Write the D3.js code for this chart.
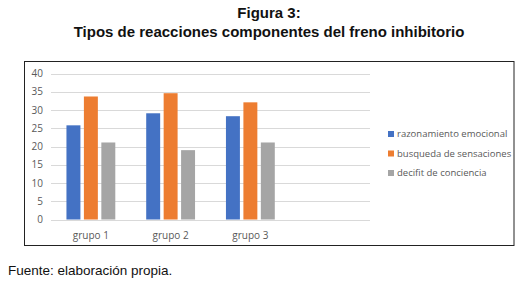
<!doctype html>
<html lang="es">
  <head>
    <meta charset="utf-8">
    <title>Figura 3</title>
    <script src="https://d3js.org/d3.v7.min.js"></script>
    <style>
      body { margin: 0; background: #fff; }
    </style>
  </head>
  <body>
    <svg width="530" height="283"></svg>
    <script>
      // data
      var groups = ['grupo 1', 'grupo 2', 'grupo 3', ''];
      var seriesNames = ['razonamiento emocional', 'busqueda de sensaciones', 'decifit de conciencia'];
      var razonamiento = [25.8, 29.1, 28.3, null];
      var busqueda = [33.7, 34.6, 32.1, null];
      var decifit = [21.1, 19.0, 21.1, null];
      var yTicks = [0, 5, 10, 15, 20, 25, 30, 35, 40];
      var colors = ['#4472c4', '#ed7d31', '#a5a5a5'];

      var series = [razonamiento, busqueda, decifit];

      var svg = d3.select('svg');

      // titles
      svg.append('text')
        .attr('x', 269).attr('y', 18)
        .attr('text-anchor', 'middle')
        .style('font', 'bold 15px "Liberation Sans", Arial, sans-serif')
        .style('fill', '#111')
        .text('Figura 3:');
      svg.append('text')
        .attr('x', 269).attr('y', 37)
        .attr('text-anchor', 'middle')
        .style('font', 'bold 15px "Liberation Sans", Arial, sans-serif')
        .style('fill', '#111')
        .text('Tipos de reacciones componentes del freno inhibitorio');

      // frame
      svg.append('rect')
        .attr('x', 24.5).attr('y', 61.5)
        .attr('width', 489.5).attr('height', 184)
        .style('fill', 'none')
        .style('stroke', '#222')
        .style('stroke-width', 1);

      var x = d3.scaleBand()
        .domain(d3.range(groups.length))
        .range([51, 370]);

      var inner = d3.scaleBand()
        .domain(d3.range(series.length))
        .range([0, x.bandwidth()])
        .paddingInner(0.2)
        .paddingOuter(0.886);

      var y = d3.scaleLinear()
        .domain([0, 40])
        .range([219.5, 73.5]);

      // gridlines
      svg.append('g').selectAll('line')
        .data(yTicks)
        .enter().append('line')
          .attr('x1', x.range()[0])
          .attr('x2', x.range()[1])
          .attr('y1', function(d){ return Math.round(y(d)) + 0.5; })
          .attr('y2', function(d){ return Math.round(y(d)) + 0.5; })
          .style('stroke', '#d9d9d9')
          .style('stroke-width', 1);

      // y axis labels
      var yAxis = d3.axisLeft(y).tickValues(yTicks).tickSize(0).tickPadding(8);
      var gy = svg.append('g')
        .attr('transform', 'translate(' + x.range()[0] + ',0)')
        .call(yAxis);
      gy.select('.domain').remove();
      gy.selectAll('text')
        .style('font', '10px "Open Sans", sans-serif')
        .style('fill', '#595959');

      // bars
      var barData = [];
      groups.forEach(function(g, i){
        series.forEach(function(s, j){
          if (s[i] != null) barData.push({ g: i, s: j, v: s[i] });
        });
      });

      svg.append('g').selectAll('rect')
        .data(barData)
        .enter().append('rect')
          .attr('x', function(d){ return x(d.g) + inner(d.s); })
          .attr('width', inner.bandwidth())
          .attr('y', function(d){ return y(d.v); })
          .attr('height', function(d){ return y(0) - y(d.v); })
          .style('fill', function(d){ return colors[d.s]; });

      // x axis labels
      var xAxis = d3.axisBottom(x).tickFormat(function(i){ return groups[i]; }).tickSize(0).tickPadding(12);
      var gx = svg.append('g')
        .attr('transform', 'translate(0,' + y(0) + ')')
        .call(xAxis);
      gx.select('.domain').remove();
      gx.selectAll('text')
        .style('font', '10px "Open Sans", sans-serif')
        .style('fill', '#595959');

      // legend
      var legend = svg.append('g').selectAll('g')
        .data(seriesNames)
        .enter().append('g')
          .attr('transform', function(d, i){ return 'translate(388,' + (134 + i * 19.5) + ')'; });
      legend.append('rect')
        .attr('x', 0).attr('y', -3)
        .attr('width', 6).attr('height', 6)
        .style('fill', function(d, i){ return colors[i]; });
      legend.append('text')
        .attr('x', 9).attr('y', 0)
        .attr('dy', '0.35em')
        .style('font', '9.5px "Open Sans", sans-serif')
        .style('fill', '#595959')
        .text(function(d){ return d; });

      // source
      svg.append('text')
        .attr('x', 8).attr('y', 275)
        .style('font', '13.5px "Liberation Sans", Arial, sans-serif')
        .style('fill', '#111')
        .text('Fuente: elaboración propia.');
    </script>
  </body>
</html>
